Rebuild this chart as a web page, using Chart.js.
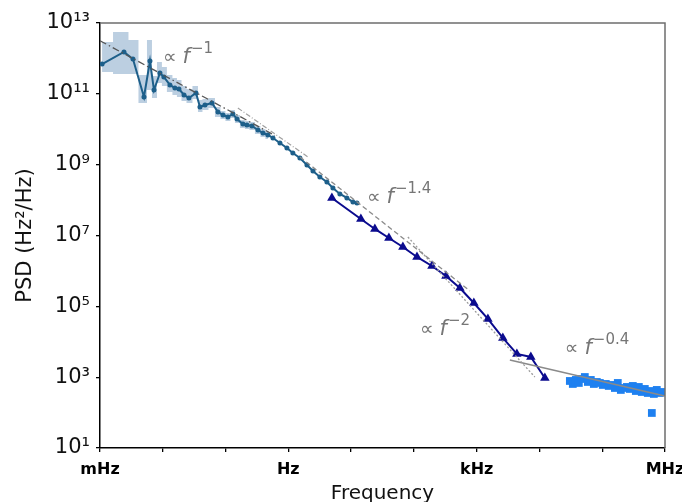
<!DOCTYPE html>
<html>
<head>
<meta charset="utf-8">
<script src="https://cdn.jsdelivr.net/npm/chart.js@4.4.0/dist/chart.umd.min.js"></script>
<style>
    html, body { margin: 0; padding: 0; background: #fff; }
    #psdChart { display: block; }
</style>
</head>
<body>
<canvas id="psdChart" width="682" height="502"></canvas>
<script>
// Low band (teal dots + error band)
const lowFreq = [1.08e-3, 2.41e-3, 3.35e-3, 5.02e-3, 6.25e-3, 7.24e-3, 9.02e-3, 1.04e-2, 1.30e-2, 1.56e-2,
    1.81e-2, 2.18e-2, 2.61e-2, 3.38e-2, 3.91e-2, 4.70e-2, 6.07e-2, 7.57e-2, 9.10e-2, 0.109,
    0.131, 0.152, 0.189, 0.219, 0.263, 0.328, 0.394, 0.473, 0.569, 0.735,
    0.950, 1.18, 1.53, 1.98, 2.47, 3.18, 4.12, 5.13, 6.63, 8.57, 10.7, 12.4];
const lowPsd = [6.95e11, 1.52e12, 9.64e11, 8.15e10, 8.46e11, 1.28e11, 3.87e11, 2.99e11, 1.78e11, 1.46e11,
    1.37e11, 9.27e10, 7.64e10, 1.06e11, 4.25e10, 4.84e10, 5.51e10, 3.07e10, 2.53e10, 2.22e10,
    2.70e10, 1.95e10, 1.41e10, 1.32e10, 1.24e10, 9.53e9, 7.84e9, 6.89e9, 5.66e9, 4.09e9,
    2.96e9, 2.14e9, 1.55e9, 9.79e8, 6.64e8, 4.49e8, 3.24e8, 2.20e8, 1.49e8, 1.15e8, 8.83e7, 8.28e7];
const bandHigh = [2.91e12, 5.57e12, 3.31e12, 3.40e11, 3.31e12, 3.19e11, 7.93e11, 5.73e11, 3.40e11, 2.80e11,
    2.46e11, 1.66e11, 1.37e11, 1.66e11, 6.70e10, 7.14e10, 7.64e10, 4.25e10, 3.28e10, 2.88e10,
    3.50e10, 2.53e10, 1.83e10, 1.71e10, 1.61e10, 1.24e10, 1.02e10, 8.94e9];
const bandLow = [4.14e11, 3.63e11, 3.63e11, 5.51e10, 1.28e11, 7.64e10, 2.02e11, 1.66e11, 1.13e11, 9.27e10,
    8.15e10, 6.28e10, 5.51e10, 7.14e10, 3.07e10, 3.50e10, 3.98e10, 2.22e10, 1.95e10, 1.71e10,
    2.08e10, 1.50e10, 1.09e10, 1.02e10, 9.56e9, 7.35e9, 6.04e9, 5.31e9];

// Mid band (navy triangles)
const midFreq = [4.94, 14.3, 23.9, 40.0, 66.8, 112, 194, 324, 540, 902, 1510, 2610, 4370, 7290, 12200];
const midPsd = [1.15e8, 2.92e7, 1.53e7, 8.51e6, 4.74e6, 2.48e6, 1.38e6, 7.19e5, 3.30e5, 1.24e5,
    4.40e4, 1.28e4, 4.52e3, 3.72e3, 949];

// High band (blue squares)
const highFreq = [3.05e4, 3.40e4, 3.80e4, 4.24e4, 4.73e4, 5.28e4, 5.90e4, 6.58e4, 7.35e4, 8.20e4,
    9.16e4, 1.02e5, 1.14e5, 1.27e5, 1.42e5, 1.59e5, 1.77e5, 1.98e5, 2.21e5, 2.47e5,
    2.75e5, 3.07e5, 3.43e5, 3.83e5, 4.27e5, 4.77e5, 5.32e5, 5.94e5, 6.17e5, 6.64e5,
    7.40e5, 8.26e5, 8.89e5];
const highPsd = [781, 643, 834, 686, 889, 1010, 732, 834, 643, 732,
    686, 603, 643, 565, 603, 495, 686, 436, 495, 529,
    465, 565, 407, 529, 382, 465, 358, 407, 97.5, 336,
    436, 358, 382];

// Power-law guide lines (end points)
const fit1Freq = [1e-3, 0.612], fit1Psd = [3.16e12, 6.67e9];
const fitAuxFreq = [0.157, 2.05], fitAuxPsd = [3.98e10, 1.65e9];
const fit14Freq = [1.53, 780], fit14Psd = [1.65e9, 2.72e5];
const fit2Freq = [80.2, 8450], fit2Psd = [9.08e6, 1.01e3];
const fit04Freq = [3380, 9.93e5], fit04Psd = [3.06e3, 294];

// Annotations
const annoFreq = [1.01e-2, 17.9, 125, 2.54e4];
const annoPsd = [1.1e12, 1.22e8, 2.3e4, 6.67e3];
const annoExp = ['\u22121', '\u22121.4', '\u22122', '\u22120.4'];

// Ticks
const xTickValues = [1e-3, 1e-2, 1e-1, 1, 1e1, 1e2, 1e3, 1e4, 1e5, 1e6];
const xTickText = ['mHz', '', '', 'Hz', '', '', 'kHz', '', '', 'MHz'];
const yTickValues = [1e1, 1e3, 1e5, 1e7, 1e9, 1e11, 1e13];
const yTickText = ['10\u00b9', '10\u00b3', '10\u2075', '10\u2077', '10\u2079', '10\u00b9\u00b9', '10\u00b9\u00b3'];

const FONT = "'DejaVu Sans', sans-serif";

function pts(xs, ys) {
    return xs.map((x, i) => ({ x: x, y: ys[i] }));
}

function guide(xs, ys, color, dash, width) {
    return {
        data: pts(xs, ys),
        borderColor: color,
        borderWidth: width,
        borderDash: dash,
        pointRadius: 0,
        fill: false,
        order: 0
    };
}

const framePlugin = {
    id: 'frame',
    afterDraw(chart) {
        const { ctx, chartArea: a } = chart;
        ctx.save();
        ctx.strokeStyle = '#6e6e6e';
        ctx.lineWidth = 1.5;
        ctx.beginPath();
        ctx.moveTo(a.left, a.top);
        ctx.lineTo(a.right, a.top);
        ctx.lineTo(a.right, a.bottom);
        ctx.stroke();
        ctx.restore();
    }
};

const annoPlugin = {
    id: 'anno',
    afterDatasetsDraw(chart) {
        const { ctx } = chart;
        const sx = chart.scales.x, sy = chart.scales.y;
        ctx.save();
        ctx.fillStyle = '#767676';
        ctx.textBaseline = 'alphabetic';
        annoFreq.forEach((f, i) => {
            let px = sx.getPixelForValue(f);
            const py = sy.getPixelForValue(annoPsd[i]) + 6;
            ctx.font = `19px ${FONT}`;
            ctx.fillText('\u221d', px, py);
            px += ctx.measureText('\u221d').width + 6;
            ctx.font = `italic 21px ${FONT}`;
            ctx.fillText('f', px, py);
            px += ctx.measureText('f').width + 1;
            ctx.font = `15px ${FONT}`;
            ctx.fillText(annoExp[i], px, py - 10);
        });
        ctx.restore();
    }
};

const ctx = document.getElementById('psdChart').getContext('2d');

new Chart(ctx, {
    type: 'line',
    data: {
        datasets: [
            {
                data: pts(lowFreq, lowPsd),
                borderColor: '#1d5f8a',
                backgroundColor: '#1d5f8a',
                borderWidth: 2,
                pointRadius: 2.5,
                pointBorderWidth: 0,
                fill: false,
                order: 2
            },
            {
                data: pts(midFreq, midPsd),
                borderColor: '#0b0b8e',
                backgroundColor: '#0b0b8e',
                borderWidth: 2,
                pointStyle: 'triangle',
                pointRadius: 5.5,
                pointBorderWidth: 0,
                fill: false,
                order: 1
            },
            {
                data: pts(highFreq, highPsd),
                showLine: false,
                backgroundColor: '#1e80f0',
                borderColor: '#1e80f0',
                pointStyle: 'rect',
                pointRadius: 5.5,
                pointBorderWidth: 0,
                order: 1
            },
            guide(fit1Freq, fit1Psd, '#555555', [7, 3, 1.5, 3], 1.3),
            guide(fitAuxFreq, fitAuxPsd, '#a0a0a0', [5, 2, 1, 2], 1.2),
            guide(fit14Freq, fit14Psd, '#8a8a8a', [5, 3], 1.3),
            guide(fit2Freq, fit2Psd, '#9a9a9a', [2, 2], 1.3),
            guide(fit04Freq, fit04Psd, '#8a8a8a', [], 1.4),
            {
                data: pts(lowFreq.slice(0, bandHigh.length), bandHigh),
                borderWidth: 0,
                pointRadius: 0,
                stepped: 'middle',
                backgroundColor: '#bccfe1',
                fill: '+1',
                order: 10
            },
            {
                data: pts(lowFreq.slice(0, bandLow.length), bandLow),
                borderWidth: 0,
                pointRadius: 0,
                stepped: 'middle',
                fill: false,
                order: 10
            }
        ]
    },
    options: {
        responsive: false,
        animation: false,
        layout: { padding: { top: 23, right: 17, left: 0, bottom: 0 } },
        plugins: {
            legend: { display: false },
            tooltip: { enabled: false }
        },
        scales: {
            x: {
                type: 'logarithmic',
                min: 1e-3,
                max: 1e6,
                afterBuildTicks: s => { s.ticks = xTickValues.map(v => ({ value: v })); },
                afterFit: s => { s.height = 54; s.paddingLeft = 0; s.paddingRight = 0; },
                grid: { drawOnChartArea: false, drawTicks: true, tickLength: 4, color: '#000', lineWidth: 1.3 },
                border: { color: '#000', width: 1.5 },
                ticks: {
                    autoSkip: false,
                    maxRotation: 0,
                    padding: 8,
                    color: '#000',
                    font: { family: FONT, size: 16, weight: 'bold' },
                    callback: (v, i) => xTickText[i]
                },
                title: {
                    display: true,
                    text: 'Frequency',
                    color: '#111',
                    padding: { top: 0, bottom: -4 },
                    font: { family: FONT, size: 20 }
                }
            },
            y: {
                type: 'logarithmic',
                min: 10,
                max: 1e13,
                afterBuildTicks: s => { s.ticks = yTickValues.map(v => ({ value: v })); },
                afterFit: s => { s.width = 100; },
                grid: { drawOnChartArea: false, drawTicks: true, tickLength: 4, color: '#000', lineWidth: 1.3 },
                border: { color: '#000', width: 1.5 },
                ticks: {
                    autoSkip: false,
                    padding: 6,
                    color: '#111',
                    font: { family: FONT, size: 21 },
                    callback: (v, i) => yTickText[i]
                },
                title: {
                    display: true,
                    text: 'PSD (Hz\u00b2/Hz)',
                    color: '#111',
                    padding: { top: 13, bottom: 0 },
                    font: { family: FONT, size: 21 }
                }
            }
        }
    },
    plugins: [framePlugin, annoPlugin]
});
</script>
</body>
</html>
